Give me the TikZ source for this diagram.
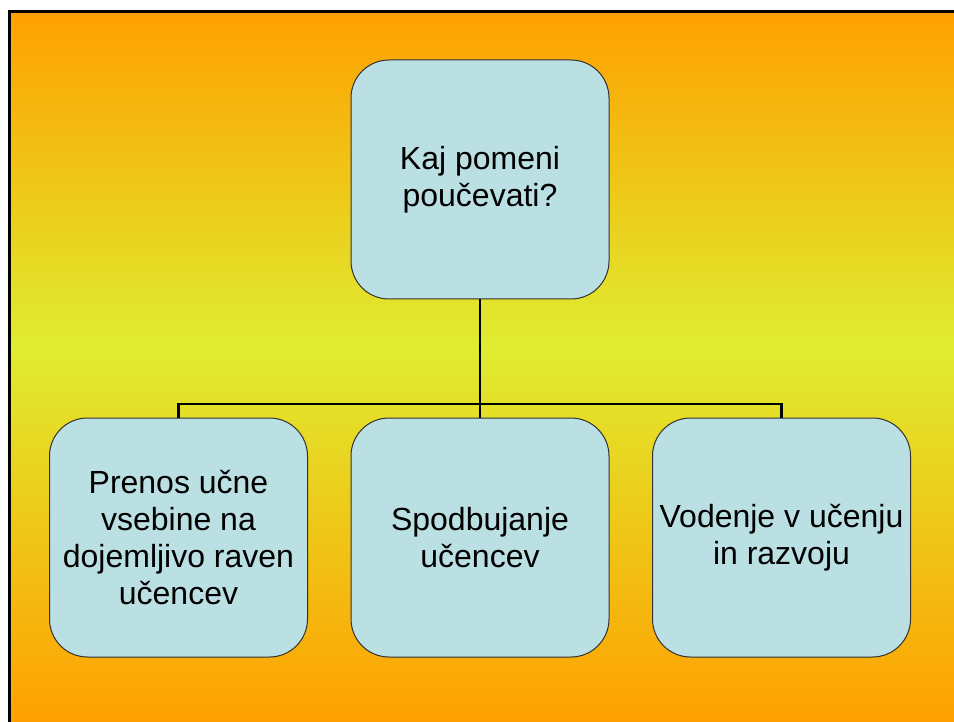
\documentclass[tikz,border=0pt]{standalone}
\usepackage{fontspec}
\setmainfont{Liberation Sans}
\definecolor{orangeT}{RGB}{255,160,0}
\definecolor{yellowM}{RGB}{223,236,48}
\definecolor{boxfill}{RGB}{187,224,227}
\definecolor{boxline}{RGB}{50,50,50}
\pgfdeclareverticalshading{bgshade}{100bp}{color(0bp)=(orangeT); color(25bp)=(orangeT); color(51.5bp)=(yellowM); color(75bp)=(orangeT); color(100bp)=(orangeT)}
\tikzset{
  card/.style={draw=boxline, line width=1pt, fill=boxfill, rounded corners=38pt,
    minimum width=258pt, minimum height=239pt, inner sep=0pt, align=center,
    font=\fontsize{32}{37}\selectfont},
  link/.style={draw=black, line width=2.2pt}
}
\begin{document}
\begin{tikzpicture}[x=1pt,y=-1pt]
\useasboundingbox (0,0) rectangle (954,722);
\fill[white] (0,0) rectangle (954,722);
\shade[shading=bgshade] (9,11) rectangle (954,722);
\draw[line width=3pt, black] (9.5,730) -- (9.5,11.5) -- (960,11.5);
\node[card] (top) at (480,179.5) {Kaj pomeni\\pou\v{c}evati?};
\node[card] (left) at (178.5,537.5) {Prenos u\v{c}ne\\vsebine na\\dojemljivo raven\\u\v{c}encev};
\node[card] (mid) at (480,537.5) {Spodbujanje\\u\v{c}encev};
\node[card] (right) at (781.5,537.5) {Vodenje v u\v{c}enju\\in razvoju};
\coordinate (bus) at (480,404);
\draw[link] (top.south) -- (mid.north);
\draw[link] (left.north) |- (bus) -| (right.north);
\end{tikzpicture}
\end{document}
